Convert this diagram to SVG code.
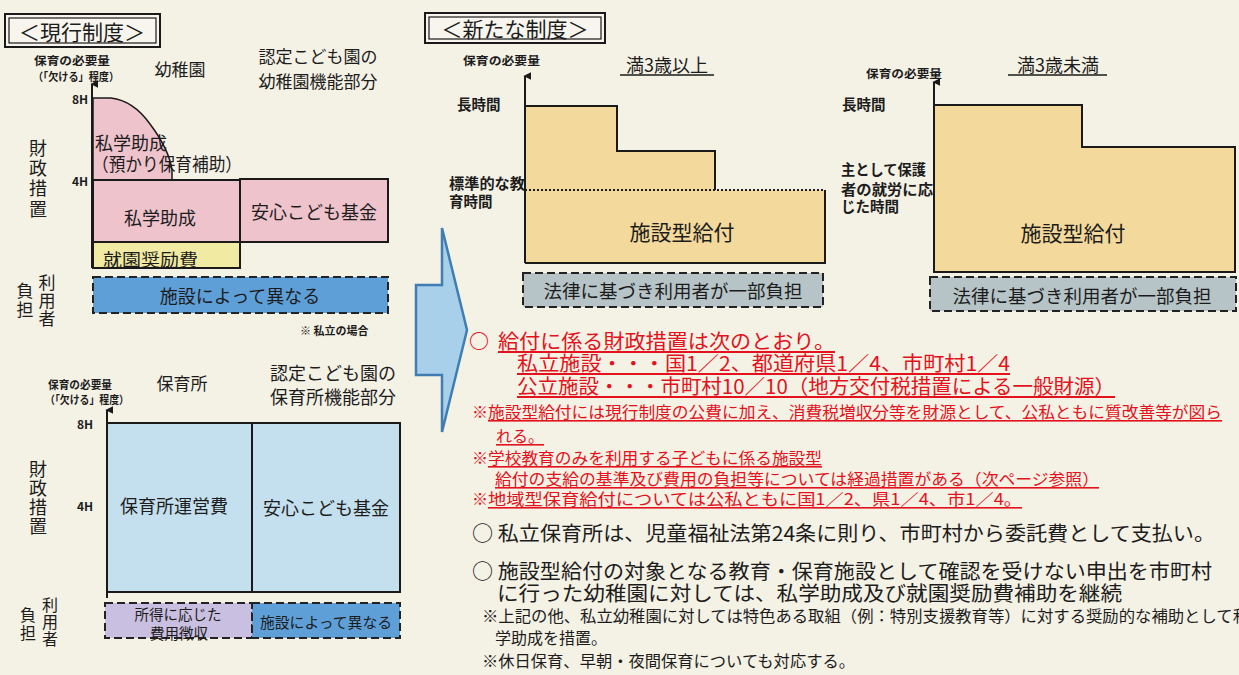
<svg xmlns="http://www.w3.org/2000/svg" width="1239" height="675" viewBox="0 0 1239 675">
<defs>
<marker id="ah" viewBox="0 0 10 10" refX="5" refY="2" markerWidth="8" markerHeight="8" markerUnits="userSpaceOnUse" orient="auto-start-reverse">
<path d="M0,10 L5,0 L10,10 Z" fill="#1a1a1a"/>
</marker>
<style>
text{font-family:"Noto Sans CJK JP","Noto Sans",sans-serif;fill:#1c1c1c;dominant-baseline:central}
.t17{font-size:17px}
.t18{font-size:18px}
.sm{font-size:11px;font-weight:bold}
.ax{font-size:12px;font-weight:bold}
.lbl{font-size:14.5px;font-weight:bold}
.red{fill:#e3121c;font-size:20px}
.reds{fill:#e3121c;font-size:16px}
.blk{font-size:20px}
.blks{font-size:16px}
.ul{text-decoration:underline}
.vt{writing-mode:vertical-rl}
.edge{stroke:#1a1a1a;stroke-width:2;fill:none}
.dash{stroke:#222;stroke-width:2;stroke-dasharray:8,4}
</style>
</defs>
<rect x="0" y="0" width="1239" height="675" fill="#f4f1e5"/>

<g id="title-current">
<rect x="5" y="14" width="155" height="33" fill="#f7f5ee" stroke="#1a1a1a" stroke-width="2"/>
<rect x="9" y="18" width="147" height="25" fill="none" stroke="#1a1a1a" stroke-width="1.2"/>
<text x="82" y="31" font-size="21" text-anchor="middle">＜現行制度＞</text>
</g>

<g id="kindergarten-panel">
<text class="sm"><tspan x="34" y="60" textLength="76" lengthAdjust="spacingAndGlyphs">保育の必要量</tspan><tspan x="33" y="76" textLength="86" lengthAdjust="spacingAndGlyphs">（「欠ける」程度）</tspan></text>
<text x="180" y="68" class="t17" text-anchor="middle">幼稚園</text>
<text class="t17" text-anchor="middle"><tspan x="318" y="55">認定こども園の</tspan><tspan x="318" y="80">幼稚園機能部分</tspan></text>
<path d="M93,180 V98 H111 C128,100 140,110 150,124 C162,140 170,156 172,170 V180 Z" fill="#eec3cc" stroke="#1a1a1a" stroke-width="1.5"/>
<rect x="93" y="180" width="147" height="62" fill="#eec3cc" stroke="#1a1a1a" stroke-width="2"/>
<rect x="240" y="179" width="148" height="63" fill="#eec3cc" stroke="#1a1a1a" stroke-width="2"/>
<rect x="93" y="242" width="147" height="26" fill="#f1eaa2" stroke="#1a1a1a" stroke-width="2"/>
<rect x="93" y="277" width="295" height="36" fill="#5e9fd8" class="dash"/>
<text class="t18"><tspan x="95" y="142">私学助成</tspan><tspan x="92" y="163" textLength="150" lengthAdjust="spacingAndGlyphs">（預かり保育補助）</tspan></text>
<text x="160" y="217" class="t18" text-anchor="middle">私学助成</text>
<text x="314" y="211" class="t18" text-anchor="middle">安心こども基金</text>
<text x="103" y="258" class="t17" textLength="95" lengthAdjust="spacingAndGlyphs">就園奨励費</text>
<text x="240" y="295" class="t18" text-anchor="middle" fill="#14264a">施設によって異なる</text>
<text x="300" y="330" class="sm">※  私立の場合</text>
<line x1="92" y1="268" x2="92" y2="84" stroke="#1a1a1a" stroke-width="2" marker-end="url(#ah)"/>
<text x="72" y="98" class="ax">8H</text>
<text x="72" y="180" class="ax">4H</text>
<text x="38" y="139" class="t18 vt" letter-spacing="2.3">財政措置</text>
<text x="47" y="274.5" class="t17 vt" letter-spacing="1">利用者</text>
<text x="25" y="282" class="t17 vt" letter-spacing="2">負担</text>
</g>

<g id="nursery-panel">
<text class="sm"><tspan x="48" y="384" textLength="64" lengthAdjust="spacingAndGlyphs">保育の必要量</tspan><tspan x="45" y="399" textLength="84" lengthAdjust="spacingAndGlyphs">（「欠ける」程度）</tspan></text>
<text x="182" y="382" class="t17" text-anchor="middle">保育所</text>
<text class="t18" text-anchor="middle"><tspan x="333" y="372">認定こども園の</tspan><tspan x="333" y="396">保育所機能部分</tspan></text>
<rect x="107" y="423" width="145" height="169" fill="#c4e0ee" stroke="#1a1a1a" stroke-width="2"/>
<rect x="252" y="423" width="148" height="169" fill="#c4e0ee" stroke="#1a1a1a" stroke-width="2"/>
<rect x="105" y="603" width="147" height="35" fill="#c9bfe0" class="dash"/>
<rect x="252" y="603" width="148" height="35" fill="#5e9fd8" class="dash"/>
<text x="174" y="505" class="t18" text-anchor="middle">保育所運営費</text>
<text x="326" y="507" class="t18" text-anchor="middle">安心こども基金</text>
<text font-size="14.5" text-anchor="middle"><tspan x="178" y="613">所得に応じた</tspan><tspan x="179" y="632">費用徴収</tspan></text>
<text x="326" y="621" font-size="14.8" text-anchor="middle" fill="#14264a">施設によって異なる</text>
<line x1="107" y1="598" x2="107" y2="410" stroke="#1a1a1a" stroke-width="2" marker-end="url(#ah)"/>
<text x="77" y="423" class="ax">8H</text>
<text x="77" y="505" class="ax">4H</text>
<text x="38" y="460" class="t18 vt" letter-spacing="1">財政措置</text>
<text x="50" y="597" font-size="16" class="vt" letter-spacing="1">利用者</text>
<text x="28" y="607" font-size="16" class="vt" letter-spacing="2">負担</text>
</g>

<g id="transition-arrow">
<path d="M416,285 H442 V228 L467,330 L442,432 V375 H416 Z" fill="#a9d0ea" stroke="#3f7db3" stroke-width="2.5" stroke-linejoin="miter"/>
</g>

<g id="title-new">
<rect x="425" y="13" width="180" height="30" fill="#f7f5ee" stroke="#1a1a1a" stroke-width="2"/>
<rect x="429" y="17" width="172" height="22" fill="none" stroke="#1a1a1a" stroke-width="1.2"/>
<text x="515" y="28" font-size="21" text-anchor="middle">＜新たな制度＞</text>
</g>

<g id="age3plus-panel">
<text x="463" y="60" class="sm" textLength="77" lengthAdjust="spacingAndGlyphs">保育の必要量</text>
<text x="667" y="64" class="t18" text-anchor="middle">満3歳以上</text>
<line x1="620" y1="75" x2="714" y2="75" stroke="#1a1a1a" stroke-width="1.5"/>
<path d="M525,263 V106 H617 V151 H715 V190 H825 V263 Z" fill="#f3d99b"/>
<path d="M525,106 H617 V151 H715 V190" class="edge"/>
<path d="M825,190 V263 H525" class="edge"/>
<line x1="525" y1="190" x2="825" y2="190" stroke="#1a1a1a" stroke-width="2" stroke-dasharray="2,2"/>
<line x1="525" y1="263" x2="525" y2="76" stroke="#1a1a1a" stroke-width="2" marker-end="url(#ah)"/>
<text x="457" y="103" class="lbl">長時間</text>
<text class="lbl"><tspan x="449" y="182" textLength="76" lengthAdjust="spacingAndGlyphs">標準的な教</tspan><tspan x="449" y="200">育時間</tspan></text>
<text x="682" y="231" font-size="21" text-anchor="middle">施設型給付</text>
<rect x="523" y="273" width="300" height="34" fill="#b7c4c7" class="dash"/>
<text x="673" y="290" font-size="18.5" text-anchor="middle">法律に基づき利用者が一部負担</text>
</g>

<g id="under3-panel">
<text x="866" y="73" class="sm" textLength="76" lengthAdjust="spacingAndGlyphs">保育の必要量</text>
<text x="1058" y="64" class="t18" text-anchor="middle">満3歳未満</text>
<line x1="1008" y1="75" x2="1107" y2="75" stroke="#1a1a1a" stroke-width="1.5"/>
<path d="M934,272 V105 H1082 V147 H1235 V272 Z" fill="#f3d99b" stroke="#1a1a1a" stroke-width="2"/>
<line x1="934" y1="272" x2="934" y2="82" stroke="#1a1a1a" stroke-width="2" marker-end="url(#ah)"/>
<text x="842" y="103" class="lbl">長時間</text>
<text class="lbl"><tspan x="841" y="168" textLength="85" lengthAdjust="spacingAndGlyphs">主として保護</tspan><tspan x="841" y="188" textLength="92" lengthAdjust="spacingAndGlyphs">者の就労に応</tspan><tspan x="841" y="205">じた時間</tspan></text>
<text x="1073" y="232" font-size="21" text-anchor="middle">施設型給付</text>
<rect x="930" y="277" width="306" height="34" fill="#b7c4c7" class="dash"/>
<text x="1082" y="295" font-size="18.5" text-anchor="middle">法律に基づき利用者が一部負担</text>
</g>

<g id="notes-red">
<text x="469" y="340" class="red" font-weight="bold">○</text>
<text class="red"><tspan class="ul" x="498" y="340" textLength="337" lengthAdjust="spacingAndGlyphs">給付に係る財政措置は次のとおり。</tspan><tspan class="ul" x="517" y="362" textLength="493" lengthAdjust="spacingAndGlyphs">私立施設・・・国1／2、都道府県1／4、市町村1／4</tspan><tspan class="ul" x="517" y="385" textLength="598" lengthAdjust="spacingAndGlyphs">公立施設・・・市町村10／10（地方交付税措置による一般財源）</tspan></text>
<text class="reds"><tspan x="472" y="411">※</tspan><tspan class="ul" x="488" y="411" textLength="734" lengthAdjust="spacingAndGlyphs">施設型給付には現行制度の公費に加え、消費税増収分等を財源として、公私ともに質改善等が図ら</tspan><tspan class="ul" x="496" y="435">れる。</tspan><tspan x="472" y="457">※</tspan><tspan class="ul" x="488" y="457" textLength="334" lengthAdjust="spacingAndGlyphs">学校教育のみを利用する子どもに係る施設型</tspan><tspan class="ul" x="495" y="478" textLength="604" lengthAdjust="spacingAndGlyphs">給付の支給の基準及び費用の負担等については経過措置がある（次ページ参照）</tspan><tspan x="472" y="498">※</tspan><tspan class="ul" x="488" y="498" textLength="534" lengthAdjust="spacingAndGlyphs">地域型保育給付については公私ともに国1／2、県1／4、市1／4。</tspan></text>
</g>

<g id="notes-black">
<text class="blk"><tspan x="472" y="532" textLength="743" lengthAdjust="spacingAndGlyphs">○ 私立保育所は、児童福祉法第24条に則り、市町村から委託費として支払い。</tspan><tspan x="472" y="570" textLength="740" lengthAdjust="spacingAndGlyphs">○ 施設型給付の対象となる教育・保育施設として確認を受けない申出を市町村</tspan><tspan x="497" y="592" textLength="625" lengthAdjust="spacingAndGlyphs">に行った幼稚園に対しては、私学助成及び就園奨励費補助を継続</tspan></text>
<text class="blks"><tspan x="482" y="615" textLength="767" lengthAdjust="spacingAndGlyphs">※上記の他、私立幼稚園に対しては特色ある取組（例：特別支援教育等）に対する奨励的な補助として私</tspan><tspan x="495" y="637">学助成を措置。</tspan><tspan x="482" y="660" textLength="373" lengthAdjust="spacingAndGlyphs">※休日保育、早朝・夜間保育についても対応する。</tspan></text>
</g>
</svg>
